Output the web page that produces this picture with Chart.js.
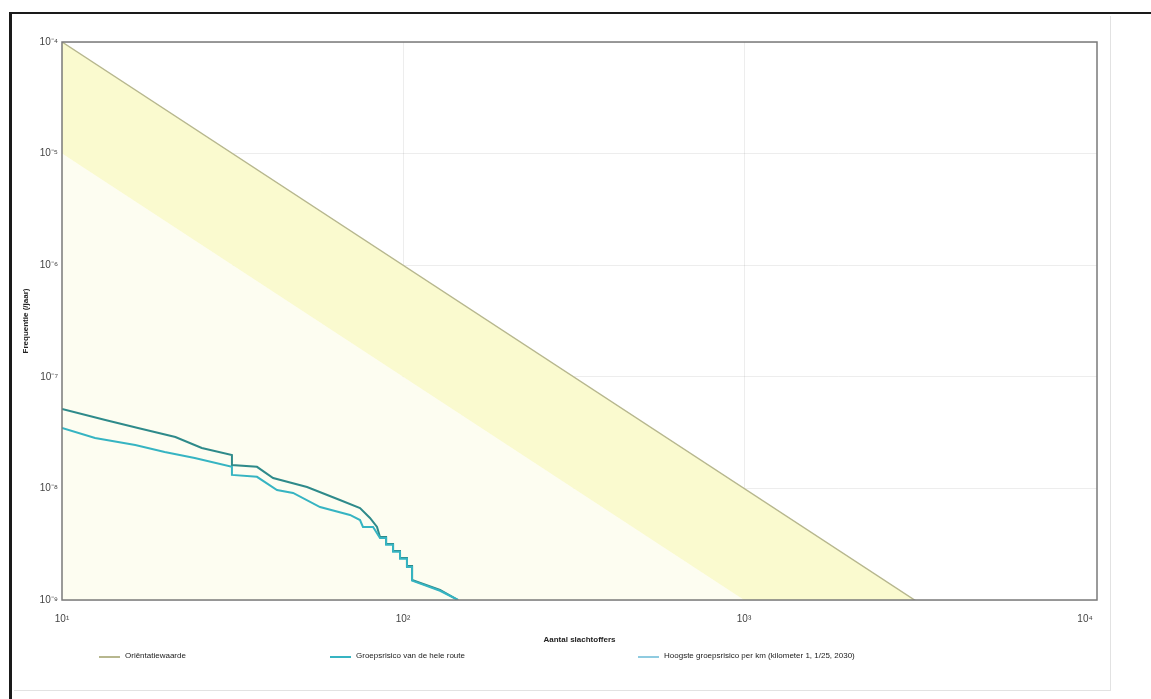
<!DOCTYPE html>
<html>
<head>
<meta charset="utf-8">
<script src="https://cdn.jsdelivr.net/npm/chart.js@4.4.1/dist/chart.umd.min.js"></script>
<style>
  html, body { margin: 0; padding: 0; background: #fff; }
  #wrap { position: relative; width: 1151px; height: 699px; overflow: hidden; font-family: "Liberation Sans", Arial, sans-serif; }
  #c { position: absolute; left: 0; top: 0; }
  .frame { position: absolute; left: 9px; top: 12px; width: 1200px; height: 800px; border-left: 3px solid #1a1a1a; border-top: 2px solid #1a1a1a; pointer-events: none; }
  .inner { position: absolute; left: 14px; top: 16px; width: 1096px; height: 674px; border-right: 1px solid #e2e2e2; border-bottom: 1px solid #e2e2e2; pointer-events: none; }
  .lg { position: absolute; top: 651px; font-size: 8px; color: #1a1a1a; white-space: nowrap; line-height: 10px; }
  .sw { position: absolute; top: 656px; height: 2px; width: 21px; }
</style>
</head>
<body>
<div id="wrap">
  <canvas id="c" width="1151" height="699"></canvas>
  <div class="frame"></div>
  <div class="inner"></div>
  <div id="legend"></div>
</div>
<script>
// ---- data ----
const xTickValues = [10, 100, 1000, 10000];
const yTickValues = [1e-9, 1e-8, 1e-7, 1e-6, 1e-5, 1e-4];

const guideN = [10, 10840];
const guideF = [1e-4, 8.51e-11];          // oriëntatiewaarde 0.01/N^2
const guideLowF = [1e-5, 8.51e-12];       // 0.1 x oriëntatiewaarde

const routeN = [10, 13.4, 16.7, 21.5, 25.7, 31.5, 31.5, 37.3, 41.6, 52.3, 65.3, 74.8, 80.0, 83.9, 85.6, 89.2, 89.2, 93.5, 93.5, 98.0, 98.0, 102.7, 102.7, 106.3, 106.3, 128.4, 145];
const routeF = [5.15e-8, 4.10e-8, 3.48e-8, 2.89e-8, 2.30e-8, 1.99e-8, 1.62e-8, 1.56e-8, 1.24e-8, 1.03e-8, 7.87e-9, 6.67e-9, 5.43e-9, 4.51e-9, 3.67e-9, 3.67e-9, 3.18e-9, 3.18e-9, 2.75e-9, 2.75e-9, 2.38e-9, 2.38e-9, 2.02e-9, 2.02e-9, 1.51e-9, 1.23e-9, 1.0e-9];

const kmN = [10, 12.5, 16.4, 20.0, 24.5, 31.5, 31.5, 37.3, 42.7, 47.6, 57.1, 69.9, 74.8, 76.3, 81.7, 85.6, 89.2, 89.2, 93.5, 93.5, 98.0, 98.0, 102.7, 102.7, 106.3, 106.3, 128.4, 145];
const kmF = [3.48e-8, 2.83e-8, 2.45e-8, 2.12e-8, 1.87e-8, 1.56e-8, 1.32e-8, 1.27e-8, 9.68e-9, 9.10e-9, 6.81e-9, 5.78e-9, 5.21e-9, 4.51e-9, 4.51e-9, 3.60e-9, 3.60e-9, 3.12e-9, 3.12e-9, 2.70e-9, 2.70e-9, 2.34e-9, 2.34e-9, 1.98e-9, 1.98e-9, 1.49e-9, 1.21e-9, 1.0e-9];

const legendLabels = ["Oriëntatiewaarde", "Groepsrisico van de hele route", "Hoogste groepsrisico per km (kilometer 1, 1/25, 2030)"];
const xTitle = "Aantal slachtoffers";
const yTitle = "Frequentie (/jaar)";

// ---- helpers ----
const pts = (xs, ys) => xs.map((x, i) => ({ x: x, y: ys[i] }));
const sup = { '-': '⁻', '0': '⁰', '1': '¹', '2': '²', '3': '³', '4': '⁴', '5': '⁵', '6': '⁶', '7': '⁷', '8': '⁸', '9': '⁹' };
const pow10 = v => '10' + String(Math.round(Math.log10(v))).split('').map(ch => sup[ch]).join('');

const colGuide = '#b7b78e';
const colRoute = '#2e8a8a';
const colKm = '#36b4c2';

const framePlugin = {
  id: 'framePlugin',
  afterDatasetsDraw(chart) {
    const { ctx, chartArea: a } = chart;
    ctx.save();
    ctx.strokeStyle = '#7a7a7a';
    ctx.lineWidth = 1.5;
    ctx.strokeRect(a.left, a.top, a.right - a.left, a.bottom - a.top);
    ctx.restore();
  }
};

new Chart(document.getElementById('c'), {
  type: 'line',
  data: {
    datasets: [
      { label: 'band-low', order: 10, data: pts(guideN, guideLowF), borderWidth: 0, borderColor: 'rgba(0,0,0,0)', backgroundColor: '#fdfdf1', fill: 'start', pointRadius: 0 },
      { label: legendLabels[0], order: 5, data: pts(guideN, guideF), borderWidth: 1.4, borderColor: colGuide, backgroundColor: '#fafacf', fill: '-1', pointRadius: 0 },
      { label: legendLabels[1], order: 1, data: pts(routeN, routeF), borderWidth: 2, borderColor: colRoute, fill: false, pointRadius: 0 },
      { label: legendLabels[2], order: 0, data: pts(kmN, kmF), borderWidth: 2, borderColor: colKm, fill: false, pointRadius: 0 }
    ]
  },
  options: {
    responsive: false,
    animation: false,
    layout: { padding: { left: 0, top: 42, right: 54, bottom: 54 } },
    plugins: { legend: { display: false }, tooltip: { enabled: false } },
    elements: { line: { tension: 0 } },
    scales: {
      x: {
        type: 'logarithmic',
        min: 10, max: 10840,
        afterBuildTicks: s => { s.ticks = xTickValues.map(v => ({ value: v })); },
        afterFit: s => { s.height = 45; },
        ticks: { callback: v => pow10(v), padding: 13, font: { family: 'Liberation Sans', size: 10 }, color: '#444', maxRotation: 0, autoSkip: false },
        grid: { drawTicks: false, color: ctx => (ctx.tick && ctx.tick.value === 10000) ? 'rgba(0,0,0,0)' : 'rgba(0,0,0,0.07)' },
        border: { display: false },
        title: { display: true, text: xTitle, font: { family: 'Liberation Sans', size: 8, weight: 'bold' }, color: '#222', padding: 0 }
      },
      y: {
        type: 'logarithmic',
        min: 1e-9, max: 1e-4,
        afterBuildTicks: s => { s.ticks = yTickValues.map(v => ({ value: v })); },
        afterFit: s => { s.width = 62; },
        ticks: { callback: v => pow10(v), padding: 4, font: { family: 'Liberation Sans', size: 10 }, color: '#444', autoSkip: false },
        grid: { drawTicks: false, color: 'rgba(0,0,0,0.07)' },
        border: { display: false },
        title: { display: true, text: yTitle, font: { family: 'Liberation Sans', size: 8, weight: 'bold' }, color: '#222', padding: { top: 21, bottom: 0 } }
      }
    }
  },
  plugins: [framePlugin]
});

// ---- legend (HTML text) ----
const legendItems = [
  { x: 99, color: colGuide, text: legendLabels[0] },
  { x: 330, color: colKm, text: legendLabels[1] },
  { x: 638, color: '#8fcbe0', text: legendLabels[2] }
];
const lg = document.getElementById('legend');
legendItems.forEach(it => {
  const sw = document.createElement('div');
  sw.className = 'sw';
  sw.style.left = it.x + 'px';
  sw.style.background = it.color;
  lg.appendChild(sw);
  const t = document.createElement('div');
  t.className = 'lg';
  t.style.left = (it.x + 26) + 'px';
  t.textContent = it.text;
  lg.appendChild(t);
});
</script>
</body>
</html>
